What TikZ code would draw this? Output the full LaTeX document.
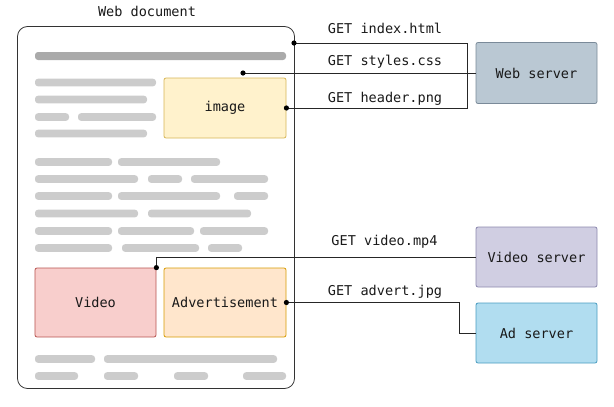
\documentclass[tikz,border=0pt]{standalone}
\usepackage{fontspec}
\setmonofont{DejaVu Sans Mono}
\definecolor{barlight}{HTML}{CCCCCC}
\definecolor{bardark}{HTML}{AAAAAA}
\definecolor{imgfill}{HTML}{FFF2CC}\definecolor{imgline}{HTML}{D6B656}
\definecolor{vidfill}{HTML}{F8CECC}\definecolor{vidline}{HTML}{B85450}
\definecolor{adfill}{HTML}{FFE6CC}\definecolor{adline}{HTML}{D79B00}
\definecolor{websfill}{HTML}{BAC8D3}\definecolor{websline}{HTML}{7A8A99}
\definecolor{vidsfill}{HTML}{D0CEE2}\definecolor{vidsline}{HTML}{8C88AE}
\definecolor{adsfill}{HTML}{B1DDF0}\definecolor{adsline}{HTML}{4A9CC0}
\tikzset{
  txt/.style={font=\ttfamily\fontsize{13.6}{16}\selectfont, text=black!90, inner sep=0pt},
  box/.style={txt, draw, line width=0.8pt, rounded corners=2pt, anchor=center},
  link/.style={draw=black!85, line width=0.8pt},
  bar/.style={fill=barlight, rounded corners=3pt},
}
\newcommand{\dotat}[1]{\fill[black] (#1) circle (2.6);}
\begin{document}
\begin{tikzpicture}[x=1bp,y=-1bp]
\useasboundingbox (0,0) rectangle (614,406);

% the page
\node[draw=black!80, line width=0.8pt, rounded corners=10pt,
      minimum width=277bp, minimum height=362bp, inner sep=0pt] (doc) at (156,207.5) {};
\node[txt] (doctitle) at (147,11) {Web document};

% text lines
\fill[bardark, rounded corners=3pt] (35,52) rectangle (286,60);
\foreach \y/\a/\b in {82.5/35/156, 99.5/35/147, 117/35/69, 117/78/156, 133.5/35/147,
  162/35/112, 162/118/220,
  179/35/138, 179/148/182, 179/191/268,
  196/35/112, 196/118/220, 196/234/268,
  213.5/35/138, 213.5/148/251,
  231/35/112, 231/118/194, 231/200/268,
  248/35/112, 248/122/199, 248/208/242,
  359/35/95, 359/104/277,
  376/35/78, 376/104/138, 376/174/208, 376/243/286}
  \fill[bar] (\a,\y-3.8) rectangle (\b,\y+3.8);

% embedded content
\node[box, fill=imgfill, draw=imgline, minimum width=122bp, minimum height=60bp] (img) at (225,108) {image};
\node[box, fill=vidfill, draw=vidline, minimum width=121bp, minimum height=69bp] (vid) at (95.5,302.5) {Video};
\node[box, fill=adfill, draw=adline, minimum width=122bp, minimum height=69bp] (ad) at (225,302.5) {Advertisement};

% servers
\node[box, fill=websfill, draw=websline, minimum width=121bp, minimum height=61bp] (web) at (536.5,73) {Web server};
\node[box, fill=vidsfill, draw=vidsline, minimum width=121bp, minimum height=60bp] (vidsrv) at (536.5,257) {Video server};
\node[box, fill=adsfill, draw=adsline, minimum width=121bp, minimum height=60bp] (adsrv) at (536.5,333) {Ad server};

% requests
\coordinate (idx) at (294,43);
\coordinate (css) at (243,73);
\draw[link] (idx) -- (467,43) -- (467,73) -- (web.west);
\draw[link] (css) -- (web.west);
\draw[link] (img.east) -- (467,108) -- (467,73);
\draw[link] (vid.north east) |- (vidsrv.west);
\draw[link] (ad.east) -- (459,302.5) |- (adsrv.west);
\dotat{idx} \dotat{css} \dotat{img.east} \dotat{vid.north east} \dotat{ad.east}

\node[txt] (getidx) at (385,28) {GET index.html};
\node[txt] (getcss) at (385,62) {GET styles.css};
\node[txt] (getpng) at (385,99) {GET header.png};
\node[txt] (getvid) at (384.5,242) {GET video.mp4};
\node[txt] (getad) at (385,292) {GET advert.jpg};
\end{tikzpicture}
\end{document}
